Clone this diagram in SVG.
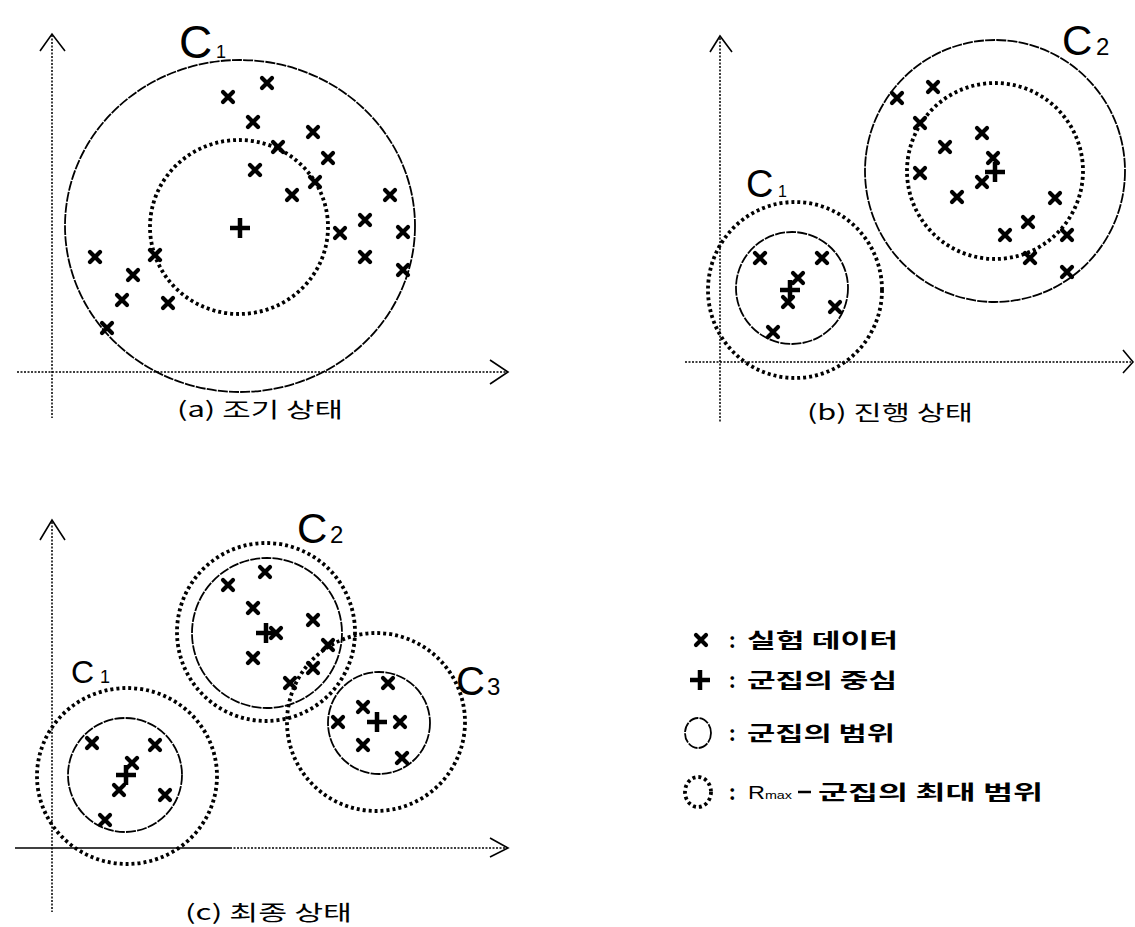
<svg xmlns="http://www.w3.org/2000/svg" xmlns:xlink="http://www.w3.org/1999/xlink" width="1135" height="927" viewBox="0 0 1135 927">
<style>
.axis{fill:none;stroke:#000;stroke-width:1.5;stroke-dasharray:2 1.5}
.axsolid{fill:none;stroke:#000;stroke-width:1.5}
.head{fill:none;stroke:#000;stroke-width:1.6}
.rng{fill:none;stroke:#000;stroke-width:1.8;stroke-dasharray:10 1.2}
.rmax{fill:none;stroke:#000;stroke-width:3.8;stroke-dasharray:3 3}
.lbl{font-family:"Liberation Sans",Arial,sans-serif;fill:#000}
.kr{font-family:"Noto Sans CJK KR","Noto Sans",sans-serif;fill:#000}
.kb{font-family:"Noto Sans CJK KR","Noto Sans",sans-serif;fill:#000;font-weight:bold}
</style>
<defs>
<path id="x" d="M-5,-5 L5,5 M5,-5 L-5,5" fill="none" stroke="#000" stroke-width="4.2" stroke-linecap="round"/>
<path id="p" d="M-10,0 H10 M0,-10 V10" fill="none" stroke="#000" stroke-width="4.5"/>
</defs>

<g id="panel-a">
  <g id="axes-a">
    <line class="axis" x1="52" y1="35" x2="52" y2="418"/>
    <polyline class="head" points="40,51 52,34 65,51"/>
    <line class="axis" x1="17" y1="372" x2="506" y2="372"/>
    <polyline class="head" points="490,360 508,372 490,384"/>
  </g>
  <g id="a-C1">
    <ellipse class="rng" cx="240" cy="226" rx="175" ry="166"/>
    <ellipse class="rmax" cx="239" cy="227" rx="89" ry="87"/>
    <use href="#p" x="240" y="228"/>
    <text class="lbl" x="179" y="58" font-size="46">C</text>
    <text class="lbl" x="216" y="58" font-size="18">1</text>
  </g>
  <g id="a-data">
    <use href="#x" x="228" y="97"/><use href="#x" x="267" y="83"/><use href="#x" x="253" y="122"/>
    <use href="#x" x="313" y="132"/><use href="#x" x="278" y="147"/><use href="#x" x="328" y="158"/>
    <use href="#x" x="255" y="170"/><use href="#x" x="315" y="182"/><use href="#x" x="292" y="195"/>
    <use href="#x" x="390" y="195"/><use href="#x" x="365" y="220"/><use href="#x" x="340" y="233"/>
    <use href="#x" x="403" y="232"/><use href="#x" x="365" y="257"/><use href="#x" x="403" y="270"/>
    <use href="#x" x="95" y="257"/><use href="#x" x="155" y="255"/><use href="#x" x="133" y="275"/>
    <use href="#x" x="122" y="300"/><use href="#x" x="168" y="303"/><use href="#x" x="107" y="328"/>
  </g>
  <text class="kr" x="177" y="417" font-size="21" textLength="166" lengthAdjust="spacingAndGlyphs">(a) 조기 상태</text>
</g>

<g id="panel-b">
  <g id="axes-b">
    <line class="axis" x1="720" y1="38" x2="720" y2="422"/>
    <polyline class="head" points="710,52 720,36 732,52"/>
    <line class="axis" x1="685" y1="362" x2="1131" y2="362"/>
    <polyline class="head" points="1123,350 1133,362 1123,373"/>
  </g>
  <g id="b-C1">
    <ellipse class="rmax" cx="795" cy="290" rx="87" ry="88"/>
    <circle class="rng" cx="792" cy="288" r="56"/>
    <use href="#x" x="760" y="258"/><use href="#x" x="822" y="258"/><use href="#x" x="798" y="278"/>
    <use href="#x" x="788" y="302"/><use href="#x" x="835" y="307"/><use href="#x" x="773" y="332"/>
    <use href="#p" x="790" y="290"/>
    <text class="lbl" x="746" y="197" font-size="38">C</text>
    <text class="lbl" x="778" y="197" font-size="16">1</text>
  </g>
  <g id="b-C2">
    <ellipse class="rng" cx="995" cy="171" rx="130" ry="131"/>
    <circle class="rmax" cx="995" cy="171" r="88"/>
    <use href="#x" x="933" y="87"/><use href="#x" x="897" y="98"/><use href="#x" x="920" y="123"/>
    <use href="#x" x="982" y="133"/><use href="#x" x="945" y="147"/><use href="#x" x="993" y="158"/>
    <use href="#x" x="920" y="173"/><use href="#x" x="982" y="182"/><use href="#x" x="957" y="197"/>
    <use href="#x" x="1055" y="198"/><use href="#x" x="1028" y="222"/><use href="#x" x="1005" y="235"/>
    <use href="#x" x="1067" y="235"/><use href="#x" x="1030" y="258"/><use href="#x" x="1067" y="272"/>
    <use href="#p" x="995" y="172"/>
    <text class="lbl" x="1062" y="55" font-size="42">C</text>
    <text class="lbl" x="1096" y="55" font-size="24">2</text>
  </g>
  <text class="kr" x="807" y="420" font-size="21" textLength="166" lengthAdjust="spacingAndGlyphs">(b) 진행 상태</text>
</g>

<g id="panel-c">
  <g id="axes-c">
    <line class="axis" x1="52" y1="522" x2="52" y2="912"/>
    <polyline class="head" points="40,540 52,520 65,540"/>
    <line class="axsolid" x1="15" y1="848" x2="230" y2="848"/>
    <line class="axis" x1="230" y1="848" x2="506" y2="848"/>
    <polyline class="head" points="490,838 508,848 490,857"/>
  </g>
  <g id="c-C1">
    <ellipse class="rmax" cx="127" cy="776" rx="90" ry="88"/>
    <circle class="rng" cx="125" cy="775" r="57"/>
    <use href="#x" x="92" y="743"/><use href="#x" x="155" y="745"/><use href="#x" x="132" y="763"/>
    <use href="#x" x="119" y="790"/><use href="#x" x="165" y="795"/><use href="#x" x="105" y="820"/>
    <use href="#p" x="126" y="775"/>
    <text class="lbl" x="71" y="683" font-size="32">C</text>
    <text class="lbl" x="100" y="683" font-size="18">1</text>
  </g>
  <g id="c-C2">
    <circle class="rmax" cx="266" cy="632" r="89"/>
    <circle class="rng" cx="267" cy="633" r="75"/>
    <use href="#x" x="265" y="572"/><use href="#x" x="228" y="585"/><use href="#x" x="253" y="608"/>
    <use href="#x" x="313" y="620"/><use href="#x" x="276" y="633"/><use href="#x" x="328" y="645"/>
    <use href="#x" x="253" y="658"/><use href="#x" x="313" y="668"/><use href="#x" x="290" y="683"/>
    <use href="#p" x="266" y="633"/>
    <text class="lbl" x="297" y="543" font-size="42">C</text>
    <text class="lbl" x="330" y="543" font-size="24">2</text>
  </g>
  <g id="c-C3">
    <circle class="rmax" cx="376" cy="722" r="89"/>
    <circle class="rng" cx="379" cy="723" r="51"/>
    <use href="#x" x="388" y="683"/><use href="#x" x="363" y="707"/><use href="#x" x="338" y="722"/>
    <use href="#x" x="400" y="722"/><use href="#x" x="363" y="745"/><use href="#x" x="402" y="758"/>
    <use href="#p" x="377" y="722"/>
    <text class="lbl" x="456" y="695" font-size="40">C</text>
    <text class="lbl" x="487" y="695" font-size="24">3</text>
  </g>
  <text class="kr" x="185" y="920" font-size="21" textLength="167" lengthAdjust="spacingAndGlyphs">(c) 최종 상태</text>
</g>

<g id="legend">
  <use href="#x" x="701" y="640"/>
  <text class="kb" x="729" y="648" font-size="20">:</text>
  <text class="kb" x="747" y="648" font-size="20" textLength="151" lengthAdjust="spacingAndGlyphs">실험 데이터</text>
  <use href="#p" x="700" y="680"/>
  <text class="kb" x="729" y="688" font-size="20">:</text>
  <text class="kb" x="747" y="688" font-size="20" textLength="150" lengthAdjust="spacingAndGlyphs">군집의 중심</text>
  <ellipse class="rng" cx="698" cy="733" rx="13" ry="15"/>
  <text class="kb" x="729" y="741" font-size="20">:</text>
  <text class="kb" x="747" y="741" font-size="20" textLength="148" lengthAdjust="spacingAndGlyphs">군집의 범위</text>
  <ellipse class="rmax" cx="698" cy="792" rx="13" ry="15" stroke-dasharray="3 4"/>
  <text class="kb" x="729" y="800" font-size="20">:</text>
  <text class="lbl" x="748" y="799" font-size="18" textLength="44" lengthAdjust="spacingAndGlyphs">R<tspan font-size="11">max</tspan></text>
  <line x1="798" y1="792" x2="811" y2="792" stroke="#000" stroke-width="2.5"/>
  <text class="kb" x="818" y="800" font-size="20" textLength="225" lengthAdjust="spacingAndGlyphs">군집의 최대 범위</text>
</g>
</svg>
